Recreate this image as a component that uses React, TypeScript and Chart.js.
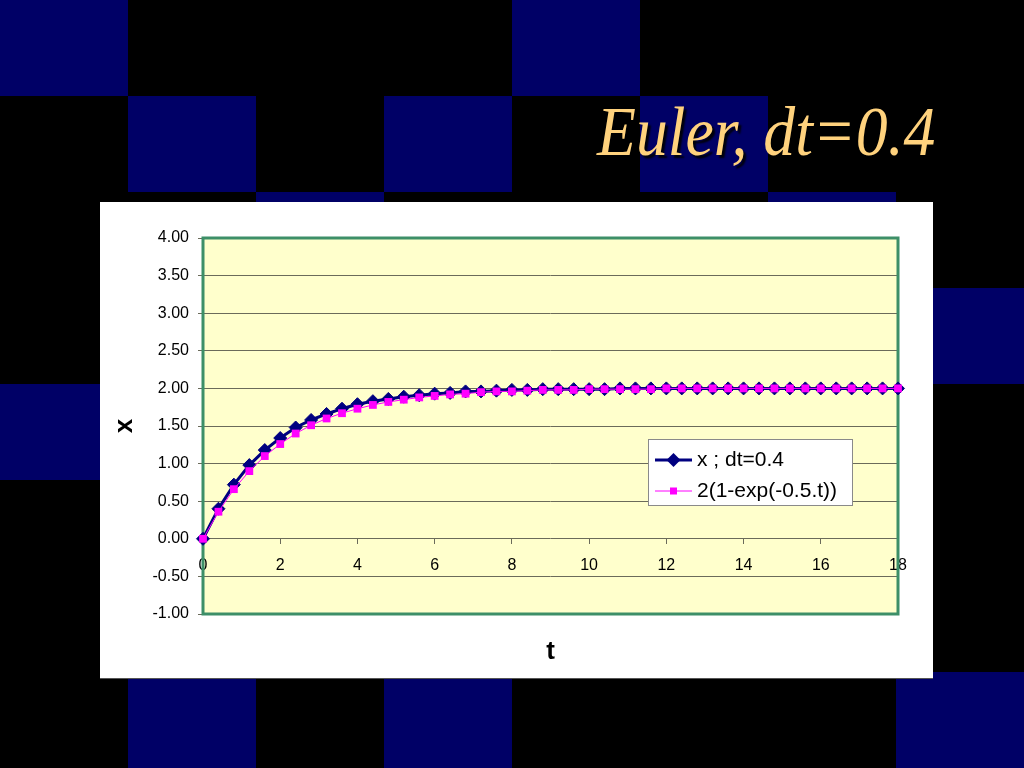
import React, { useEffect, useRef } from "react";
import { Chart, registerables } from "chart.js";

Chart.register(...registerables);

// ---- data ----
const T_VALUES = [
  0, 0.4, 0.8, 1.2, 1.6, 2, 2.4, 2.8, 3.2, 3.6, 4, 4.4, 4.8, 5.2, 5.6, 6, 6.4, 6.8, 7.2, 7.6,
  8, 8.4, 8.8, 9.2, 9.6, 10, 10.4, 10.8, 11.2, 11.6, 12, 12.4, 12.8, 13.2, 13.6, 14, 14.4, 14.8,
  15.2, 15.6, 16, 16.4, 16.8, 17.2, 17.6, 18,
];
const EULER_X = [
  0, 0.4, 0.72, 0.98, 1.18, 1.34, 1.48, 1.58, 1.66, 1.73, 1.79, 1.83, 1.86, 1.89, 1.91, 1.93,
  1.94, 1.96, 1.96, 1.97, 1.98, 1.98, 1.99, 1.99, 1.99, 1.99, 1.99, 2.0, 2.0, 2.0, 2.0, 2.0, 2.0,
  2.0, 2.0, 2.0, 2.0, 2.0, 2.0, 2.0, 2.0, 2.0, 2.0, 2.0, 2.0, 2.0,
];
const EXACT_X = [
  0, 0.36, 0.66, 0.9, 1.1, 1.26, 1.4, 1.51, 1.6, 1.67, 1.73, 1.78, 1.82, 1.85, 1.88, 1.9, 1.92,
  1.93, 1.95, 1.96, 1.96, 1.97, 1.98, 1.98, 1.98, 1.99, 1.99, 1.99, 1.99, 1.99, 2.0, 2.0, 2.0,
  2.0, 2.0, 2.0, 2.0, 2.0, 2.0, 2.0, 2.0, 2.0, 2.0, 2.0, 2.0, 2.0,
];
const SERIES_LABELS = ["x ; dt=0.4", "2(1-exp(-0.5.t))"];
const Y_MIN = -1;
const Y_MAX = 4;
const Y_STEP = 0.5;
const X_MIN = 0;
const X_MAX = 18;
const X_STEP = 2;
const TITLE = "Euler, dt=0.4";
const X_TITLE = "t";
const Y_TITLE = "x";

// ---- styling ----
const NAVY = "#000066";
const NAVY_CELLS: [number, number][] = [
  [0, 0], [0, 4], [1, 1], [1, 3], [1, 5], [2, 2], [2, 6], [3, 7], [4, 0], [7, 1], [7, 3], [7, 7],
];
const FONT = "Arial, 'Liberation Sans', sans-serif";
const GRID = "#6b6b5a";
const PLOT_BG = "#FFFFCC";
const PLOT_BORDER = "#3d8f68";
const EULER_COLOR = "#000080";
const EXACT_COLOR = "#FF00FF";

function diamond(ctx: CanvasRenderingContext2D, x: number, y: number, r: number) {
  ctx.beginPath();
  ctx.moveTo(x - r, y);
  ctx.lineTo(x, y - r);
  ctx.lineTo(x + r, y);
  ctx.lineTo(x, y + r);
  ctx.closePath();
}

const plotPlugin = {
  id: "plotDecor",
  beforeDraw(chart: any) {
    const { ctx, chartArea: a } = chart;
    ctx.save();
    ctx.fillStyle = PLOT_BG;
    ctx.fillRect(a.left, a.top, a.right - a.left, a.bottom - a.top);
    ctx.restore();
  },
  beforeDatasetsDraw(chart: any) {
    const { ctx, chartArea: a } = chart;
    ctx.save();
    ctx.strokeStyle = PLOT_BORDER;
    ctx.lineWidth = 3;
    ctx.strokeRect(a.left, a.top, a.right - a.left, a.bottom - a.top);
    ctx.restore();
  },
  afterDraw(chart: any) {
    const { ctx, chartArea: a } = chart;
    const bx = a.left + 445;
    const by = a.top + 201;
    const bw = 205;
    const bh = 67;
    ctx.save();
    ctx.fillStyle = "#ffffff";
    ctx.fillRect(bx, by, bw, bh);
    ctx.strokeStyle = "#8a8a8a";
    ctx.lineWidth = 1;
    ctx.strokeRect(bx + 0.5, by + 0.5, bw - 1, bh - 1);

    const rows = [by + 21, by + 52];
    const lx0 = bx + 7;
    const lx1 = bx + 44;
    const mx = (lx0 + lx1) / 2;
    // Euler entry
    ctx.strokeStyle = EULER_COLOR;
    ctx.lineWidth = 3;
    ctx.beginPath();
    ctx.moveTo(lx0, rows[0]);
    ctx.lineTo(lx1, rows[0]);
    ctx.stroke();
    ctx.fillStyle = EULER_COLOR;
    diamond(ctx, mx, rows[0], 7);
    ctx.fill();
    // exact entry
    ctx.strokeStyle = EXACT_COLOR;
    ctx.lineWidth = 1;
    ctx.beginPath();
    ctx.moveTo(lx0, rows[1]);
    ctx.lineTo(lx1, rows[1]);
    ctx.stroke();
    ctx.fillStyle = EXACT_COLOR;
    ctx.fillRect(mx - 3.5, rows[1] - 3.5, 7, 7);

    ctx.fillStyle = "#000";
    ctx.font = `21px ${FONT}`;
    ctx.textBaseline = "middle";
    ctx.textAlign = "left";
    ctx.fillText(SERIES_LABELS[0], bx + 49, rows[0]);
    ctx.fillText(SERIES_LABELS[1], bx + 49, rows[1]);
    ctx.restore();
  },
};

function ChartPanel() {
  const ref = useRef<HTMLCanvasElement | null>(null);
  useEffect(() => {
    if (!ref.current) return;
    const euler = T_VALUES.map((t, i) => ({ x: t, y: EULER_X[i] }));
    const exact = T_VALUES.map((t, i) => ({ x: t, y: EXACT_X[i] }));
    const chart = new Chart(ref.current, {
      type: "line",
      data: {
        datasets: [
          {
            label: SERIES_LABELS[1],
            data: exact,
            borderColor: EXACT_COLOR,
            backgroundColor: EXACT_COLOR,
            borderWidth: 1,
            pointStyle: "rect",
            pointRadius: 5.5,
            pointBorderWidth: 0,
            tension: 0,
            clip: false,
          },
          {
            label: SERIES_LABELS[0],
            data: euler,
            borderColor: EULER_COLOR,
            backgroundColor: EULER_COLOR,
            borderWidth: 3,
            pointStyle: "rectRot",
            pointRadius: 6.5,
            pointBorderWidth: 1,
            tension: 0,
            clip: false,
          },
        ],
      },
      options: {
        responsive: false,
        animation: false,
        layout: { padding: { top: 36, right: 35, left: 0, bottom: 0 } },
        plugins: { legend: { display: false }, tooltip: { enabled: false } },
        scales: {
          x: {
            type: "linear",
            position: { y: 0 } as any,
            min: X_MIN,
            max: X_MAX,
            ticks: {
              stepSize: X_STEP,
              autoSkip: false,
              maxRotation: 0,
              padding: 12,
              color: "#000",
              font: { size: 16, family: FONT },
            },
            grid: { drawOnChartArea: false, drawTicks: true, tickLength: 5, color: GRID },
            border: { display: false },
          },
          x2: {
            type: "linear",
            position: "bottom",
            grid: { display: false, drawTicks: false },
            border: { display: false },
            ticks: { display: false },
            title: {
              display: true,
              text: X_TITLE,
              color: "#000",
              font: { size: 26, weight: "bold", family: FONT },
              padding: { top: 0, bottom: 11 },
            },
            afterFit: (s: any) => {
              s.height = 64;
            },
          },
          y: {
            type: "linear",
            position: "left",
            min: Y_MIN,
            max: Y_MAX,
            ticks: {
              stepSize: Y_STEP,
              autoSkip: false,
              padding: 9,
              color: "#000",
              font: { size: 16, family: FONT },
              callback: (v: any) => Number(v).toFixed(2),
            },
            grid: { color: GRID, lineWidth: 1, drawTicks: true, tickLength: 5 },
            border: { display: false },
            title: {
              display: true,
              text: Y_TITLE,
              color: "#000",
              font: { size: 26, weight: "bold", family: FONT },
              padding: { top: 9, bottom: 0 },
            },
            afterFit: (s: any) => {
              s.width = 103;
            },
          },
        },
      } as any,
      plugins: [plotPlugin],
    });
    return () => chart.destroy();
  }, []);
  return <canvas ref={ref} width={833} height={476} style={{ display: "block" }} />;
}

export default function App() {
  return (
    <div
      style={{
        position: "fixed",
        left: 0,
        top: 0,
        width: 1024,
        height: 768,
        background: "#000",
        overflow: "hidden",
      }}
    >
      {NAVY_CELLS.map(([r, c]) => (
        <div
          key={`${r}-${c}`}
          style={{
            position: "absolute",
            left: c * 128,
            top: r * 96,
            width: 128,
            height: 96,
            background: NAVY,
          }}
        />
      ))}
      <div
        style={{
          position: "absolute",
          left: 597,
          top: 97,
          fontFamily: "'Liberation Serif', 'Times New Roman', serif",
          fontStyle: "italic",
          fontSize: 70,
          lineHeight: "70px",
          color: "#FFD27D",
          whiteSpace: "nowrap",
          transform: "scaleX(0.91)",
          transformOrigin: "left top",
          textShadow: "3px 3px 2px rgba(0,0,0,0.9)",
        }}
      >
        {TITLE}
      </div>
      <div
        style={{
          position: "absolute",
          left: 100,
          top: 202,
          width: 833,
          height: 476,
          background: "#fff",
          borderBottom: "1px solid #555",
        }}
      >
        <ChartPanel />
      </div>
    </div>
  );
}
